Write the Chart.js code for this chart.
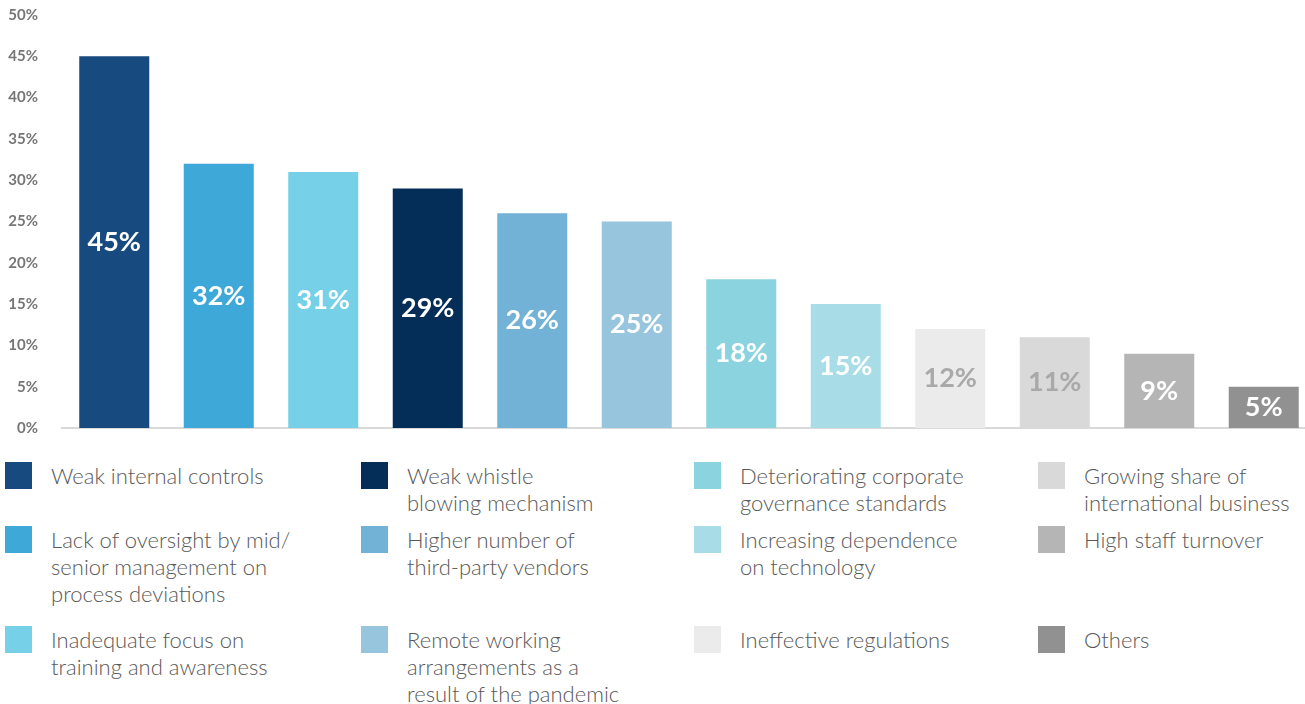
<!DOCTYPE html>
<html>
<head>
<meta charset="utf-8">
<script src="https://cdn.jsdelivr.net/npm/chart.js@4.4.1/dist/chart.umd.min.js"></script>
<style>
  html, body { margin: 0; padding: 0; background: #fff; overflow: hidden; }
  #wrap { position: relative; width: 1305px; height: 704px; overflow: hidden; }
  #chartBox { position: absolute; left: 0; top: -18px; width: 1320px; height: 479px; }
  .item { position: absolute; display: flex; align-items: flex-start; font-family: Lato, "Open Sans", sans-serif;
          font-weight: 300; font-size: 22px; line-height: 27px; color: #595959; }
  .sw { width: 27px; height: 27px; margin-right: 19px; flex: none; }
</style>
</head>
<body>
<div id="wrap">
  <div id="chartBox"><canvas id="bars"></canvas></div>
  <div id="legend"></div>
</div>
<script>
  // categories, in bar order
  const causes = [
    "Weak internal controls",
    "Lack of oversight by mid/\nsenior management on\nprocess deviations",
    "Inadequate focus on\ntraining and awareness",
    "Weak whistle\nblowing mechanism",
    "Higher number of\nthird-party vendors",
    "Remote working\narrangements as a\nresult of the pandemic",
    "Deteriorating corporate\ngovernance standards",
    "Increasing dependence\non technology",
    "Ineffective regulations",
    "Growing share of\ninternational business",
    "High staff turnover",
    "Others"
  ];
  const shares = [45, 32, 31, 29, 26, 25, 18, 15, 12, 11, 9, 5];
  const yTicks = [0, 5, 10, 15, 20, 25, 30, 35, 40, 45, 50];

  const barColors = [
    "#174a7e", "#3ea8d8", "#76d0e8", "#042d57", "#71b2d6", "#97c5de",
    "#8ad3df", "#a8dde8", "#ebebeb", "#d9d9d9", "#b5b5b5", "#919191"
  ];
  const labelColors = [
    "#fff", "#fff", "#fff", "#fff", "#fff", "#fff",
    "#fff", "#fff", "#a9a9a9", "#a9a9a9", "#fff", "#fff"
  ];

  // value labels centred inside each bar
  const insideLabels = {
    id: "insideLabels",
    afterDatasetsDraw(chart) {
      const ctx = chart.ctx;
      const meta = chart.getDatasetMeta(0);
      ctx.save();
      ctx.font = "bold 27px Lato, 'Open Sans', sans-serif";
      ctx.textAlign = "center";
      ctx.textBaseline = "middle";
      meta.data.forEach((bar, i) => {
        ctx.fillStyle = labelColors[i];
        ctx.fillText(shares[i] + "%", bar.x, (bar.y + bar.base) / 2);
      });
      ctx.restore();
    }
  };

  new Chart(document.getElementById("bars"), {
    type: "bar",
    data: {
      labels: causes,
      datasets: [{
        data: shares,
        backgroundColor: barColors,
        borderWidth: 0,
        barPercentage: 0.67,
        categoryPercentage: 1
      }]
    },
    options: {
      responsive: true,
      maintainAspectRatio: false,
      animation: false,
      layout: { padding: { top: 0, right: 4, left: 0, bottom: 0 } },
      plugins: { legend: { display: false }, tooltip: { enabled: false } },
      scales: {
        x: {
          grid: { display: false },
          border: { display: true, color: "#d9d9d9", width: 2 },
          ticks: { display: false }
        },
        y: {
          min: 0,
          max: 50,
          afterBuildTicks: axis => { axis.ticks = yTicks.map(v => ({ value: v })); },
          afterFit: axis => { axis.width = 62; },
          grid: { display: false, drawTicks: false },
          border: { display: false },
          ticks: {
            padding: 24,
            color: "#767676",
            font: { family: "Lato, 'Open Sans', sans-serif", size: 15, weight: "bold" },
            callback: v => v + "%"
          }
        }
      }
    },
    plugins: [insideLabels]
  });

  // legend: four columns, filled top to bottom
  const colLeft = [5, 361, 694, 1038];
  const rowTop = [462, 526, 626];
  const legend = document.getElementById("legend");
  causes.forEach((name, i) => {
    const col = Math.floor(i / 3), row = i % 3;
    const item = document.createElement("div");
    item.className = "item";
    item.style.left = colLeft[col] + "px";
    item.style.top = rowTop[row] + "px";
    const sw = document.createElement("div");
    sw.className = "sw";
    sw.style.background = barColors[i];
    const txt = document.createElement("div");
    txt.innerHTML = name.split("\n").join("<br>");
    item.appendChild(sw);
    item.appendChild(txt);
    legend.appendChild(item);
  });
</script>
</body>
</html>
